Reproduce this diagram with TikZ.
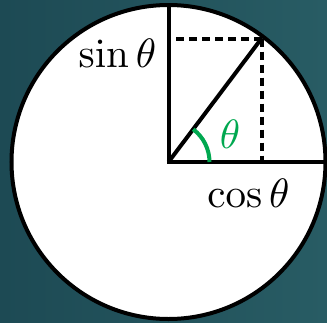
\documentclass[tikz,border=0pt]{standalone}
\usepackage{graphicx}
\usepackage{tikz}
\definecolor{bgL}{RGB}{29,74,84}
\definecolor{bgR}{RGB}{40,92,100}
\definecolor{angG}{RGB}{0,168,80}
\newcommand{\mylbl}[1]{\scalebox{4.1}{$#1$}}
\begin{document}
\begin{tikzpicture}[x=1pt,y=-1pt,
  lbl/.style={inner sep=0pt},
  solidline/.style={line width=4pt},
  dashline/.style={line width=4pt, dash pattern=on 8pt off 5pt}]
\shade[left color=bgL, right color=bgR] (0,0) rectangle (327,322);
\useasboundingbox (0,0) rectangle (327,322);
\coordinate (O) at (168.5,162);
\coordinate (T) at (168.5,5);
\coordinate (R) at (325.5,162);
\draw[solidline, fill=white] (O) circle[radius=157];
\coordinate (P) at (261.5,38.5);
\coordinate (Px) at (261.5,162);
\coordinate (Py) at (168.5,38.5);
\draw[solidline] (T) -- (O) -- (R);
\draw[solidline] (O) -- (P);
\draw[dashline] (P) -- (Py);
\draw[dashline] (P) -- (Px);
\draw[angG, line width=4pt] (209.5,162) arc[start angle=0, end angle=53, x radius=41, y radius=-41];
\node[lbl, anchor=base] (s) at (117.5,67) {\mylbl{\sin\theta}};
\node[lbl, anchor=base] (c) at (248.5,207) {\mylbl{\cos\theta}};
\node[lbl, anchor=base, text=angG] (t) at (230,148) {\mylbl{\theta}};
\end{tikzpicture}
\end{document}
